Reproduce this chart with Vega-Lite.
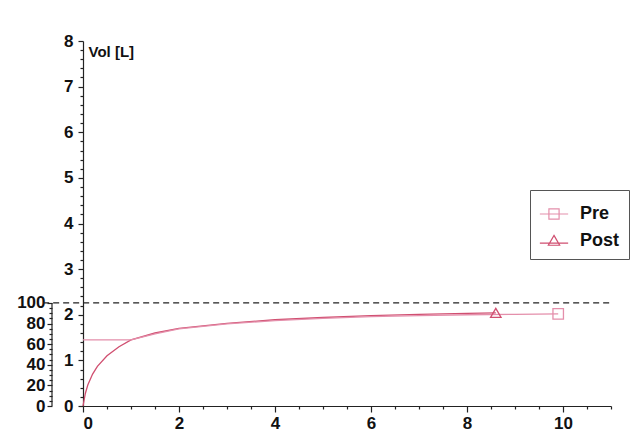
{
  "$schema": "https://vega.github.io/schema/vega-lite/v6.json",
  "width": 528,
  "height": 365,
  "autosize": {"type": "none"},
  "padding": {"left": 83, "top": 41, "right": 20, "bottom": 32},
  "background": "white",
  "config": {
    "view": {"stroke": null},
    "axis": {
      "grid": false,
      "labelFont": "Liberation Sans",
      "labelFontSize": 17,
      "labelFontWeight": "bold",
      "labelColor": "#111",
      "domainColor": "#222",
      "tickColor": "#222",
      "domainWidth": 1.2,
      "tickWidth": 1.2
    }
  },
  "datasets": {
    "curves": [
      {"series": "Post", "t": 0, "vol": 0},
      {"series": "Post", "t": 0.05, "vol": 0.28},
      {"series": "Post", "t": 0.1, "vol": 0.46},
      {"series": "Post", "t": 0.2, "vol": 0.7},
      {"series": "Post", "t": 0.3, "vol": 0.87},
      {"series": "Post", "t": 0.5, "vol": 1.1},
      {"series": "Post", "t": 0.75, "vol": 1.3},
      {"series": "Post", "t": 1.0, "vol": 1.45},
      {"series": "Post", "t": 1.5, "vol": 1.6},
      {"series": "Post", "t": 2, "vol": 1.7},
      {"series": "Post", "t": 3, "vol": 1.81},
      {"series": "Post", "t": 4, "vol": 1.89},
      {"series": "Post", "t": 5, "vol": 1.94},
      {"series": "Post", "t": 6, "vol": 1.98},
      {"series": "Post", "t": 7, "vol": 2.01},
      {"series": "Post", "t": 8, "vol": 2.03},
      {"series": "Post", "t": 8.6, "vol": 2.04},
      {"series": "Pre", "t": 0, "vol": 1.45},
      {"series": "Pre", "t": 1.0, "vol": 1.45},
      {"series": "Pre", "t": 1.5, "vol": 1.58},
      {"series": "Pre", "t": 2, "vol": 1.69},
      {"series": "Pre", "t": 3, "vol": 1.8},
      {"series": "Pre", "t": 4, "vol": 1.87},
      {"series": "Pre", "t": 5, "vol": 1.92},
      {"series": "Pre", "t": 6, "vol": 1.96},
      {"series": "Pre", "t": 7, "vol": 1.98},
      {"series": "Pre", "t": 8, "vol": 2.0},
      {"series": "Pre", "t": 9, "vol": 2.01},
      {"series": "Pre", "t": 9.9, "vol": 2.02}
    ],
    "ends": [
      {"series": "Pre", "t": 9.9, "vol": 2.02},
      {"series": "Post", "t": 8.6, "vol": 2.04}
    ],
    "ref": [{"pct": 100, "t0": -0.83, "t1": 11}],
    "pctaxis": [{"t": -0.646, "p0": 0, "p1": 100}]
  },
  "layer": [
    {
      "data": {"name": "curves"},
      "mark": {"type": "line", "strokeWidth": 1.3},
      "encoding": {
        "x": {"field": "t", "type": "quantitative", "scale": {"domain": [0, 11], "nice": false},
          "axis": {"orient": "bottom", "values": [0, 2, 4, 6, 8, 10], "tickSize": 6, "labelPadding": 3, "title": null}},
        "y": {"field": "vol", "type": "quantitative", "scale": {"domain": [0, 8], "nice": false},
          "axis": {"orient": "left", "values": [0, 1, 2, 3, 4, 5, 6, 7, 8], "tickSize": 5, "labelPadding": 5,
            "title": "Vol [L]", "titleAngle": 0, "titleAlign": "left", "titleBaseline": "middle",
            "titleX": 5, "titleY": 10, "titleFont": "Liberation Sans", "titleFontSize": 15,
            "titleFontWeight": "bold", "titleColor": "#111"}},
        "color": {"field": "series", "type": "nominal", "scale": {"domain": ["Pre", "Post"], "range": ["#e48fab", "#d04f70"]}, "legend": null},
        "detail": {"field": "series"}
      }
    },
    {
      "data": {"name": "ends"},
      "mark": {"type": "point", "filled": false, "size": 110, "strokeWidth": 1.3, "opacity": 1},
      "encoding": {
        "x": {"field": "t", "type": "quantitative", "scale": {"domain": [0, 11], "nice": false},
          "axis": {"orient": "bottom", "values": [0.5, 1, 1.5, 2.5, 3, 3.5, 4.5, 5, 5.5, 6.5, 7, 7.5, 8.5, 9, 9.5, 10.5, 11], "tickSize": 3, "labels": false, "domain": false, "title": null}},
        "y": {"field": "vol", "type": "quantitative", "scale": {"domain": [0, 8], "nice": false},
          "axis": {"orient": "left", "values": [0.2, 0.4, 0.6, 0.8, 1.2, 1.4, 1.6, 1.8, 2.2, 2.4, 2.6, 2.8, 3.2, 3.4, 3.6, 3.8, 4.2, 4.4, 4.6, 4.8, 5.2, 5.4, 5.6, 5.8, 6.2, 6.4, 6.6, 6.8, 7.2, 7.4, 7.6, 7.8], "tickSize": 3, "labels": false, "domain": false, "title": null}},
        "color": {"field": "series", "type": "nominal", "scale": {"domain": ["Pre", "Post"], "range": ["#e48fab", "#d04f70"]}, "legend": null},
        "shape": {"field": "series", "type": "nominal", "scale": {"domain": ["Pre", "Post"], "range": ["square", "triangle-up"]}, "legend": null}
      }
    },
    {
      "data": {"name": "ends"},
      "mark": {"type": "point", "filled": false, "size": 110, "strokeWidth": 1.2, "opacity": 0},
      "encoding": {
        "x": {"field": "t", "type": "quantitative", "scale": {"domain": [0, 11], "nice": false}, "axis": null},
        "y": {"field": "vol", "type": "quantitative", "scale": {"domain": [0, 8], "nice": false}, "axis": null},
        "color": {"field": "series", "type": "nominal", "scale": {"domain": ["Pre", "Post"], "range": ["#e48fab", "#d04f70"]},
          "legend": {
            "title": null, "orient": "none", "legendX": 447, "legendY": 149,
            "strokeColor": "#555", "padding": 9, "rowPadding": 3, "symbolOpacity": 1,
            "labelFont": "Liberation Sans", "labelFontSize": 18, "labelFontWeight": "bold", "labelColor": "#111",
            "labelOffset": 11, "symbolSize": 800, "symbolStrokeWidth": 1.2
          }},
        "shape": {"field": "series", "type": "nominal", "scale": {"domain": ["Pre", "Post"], "range": [
          "M-1,0L1,0M-0.36,-0.36L0.36,-0.36L0.36,0.36L-0.36,0.36Z",
          "M-1,0.15L1,0.15M0,-0.4L0.4,0.3L-0.4,0.3Z"]}}
      }
    },
    {
      "data": {"name": "ref"},
      "mark": {"type": "rule", "strokeDash": [6, 4], "color": "#222", "strokeWidth": 1.3},
      "encoding": {
        "x": {"field": "t0", "type": "quantitative", "scale": {"domain": [0, 11], "nice": false}, "axis": null},
        "x2": {"field": "t1"},
        "y": {"field": "pct", "type": "quantitative", "scale": {"domain": [0, 354], "nice": false},
          "axis": {"orient": "left", "offset": 31, "values": [0, 20, 40, 60, 80, 100], "domain": false, "tickSize": 5, "labelPadding": 2, "title": null}}
      }
    },
    {
      "data": {"name": "pctaxis"},
      "mark": {"type": "rule", "color": "#222", "strokeWidth": 1.2},
      "encoding": {
        "x": {"field": "t", "type": "quantitative", "scale": {"domain": [0, 11], "nice": false}, "axis": null},
        "y": {"field": "p0", "type": "quantitative", "scale": {"domain": [0, 354], "nice": false},
          "axis": {"orient": "left", "offset": 31, "values": [5, 10, 15, 25, 30, 35, 45, 50, 55, 65, 70, 75, 85, 90, 95], "domain": false, "labels": false, "tickSize": 3, "title": null}},
        "y2": {"field": "p1"}
      }
    }
  ],
  "resolve": {"scale": {"x": "independent", "y": "independent", "color": "independent", "shape": "independent"}}
}
